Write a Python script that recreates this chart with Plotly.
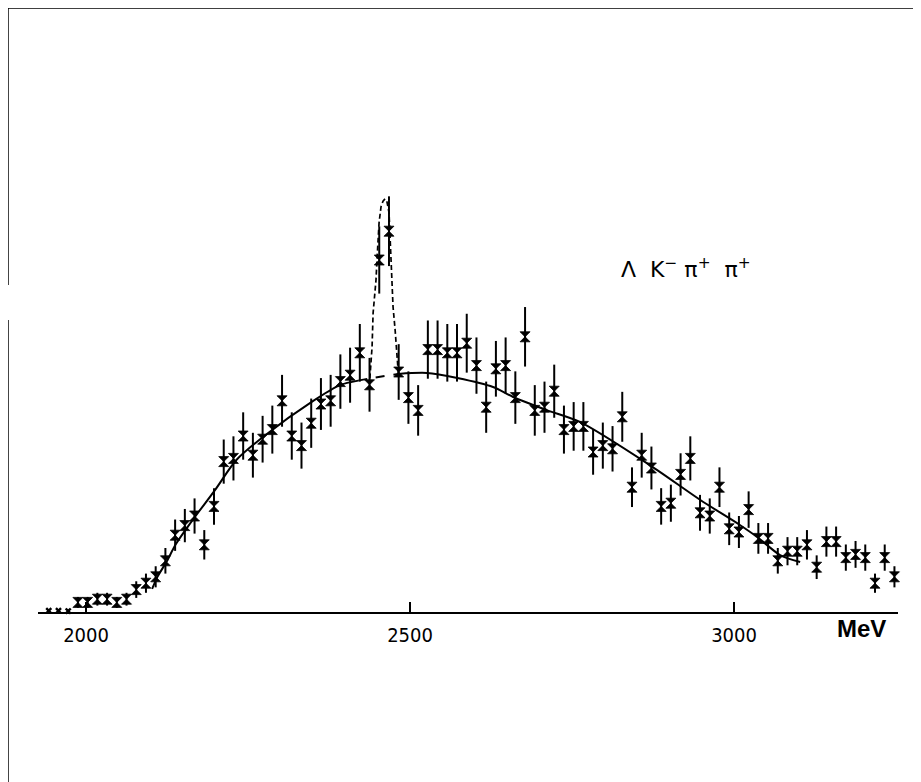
import plotly.graph_objects as go

# ---- data ----
mass = [1987.5, 2002.5, 2017.5, 2032.5, 2047.5, 2062.5, 2077.5, 2092.5, 2107.5, 2122.5,
        2137.5, 2152.5, 2167.5, 2182.5, 2197.5, 2212.5, 2227.5, 2242.5, 2257.5, 2272.5,
        2287.5, 2302.5, 2317.5, 2332.5, 2347.5, 2362.5, 2377.5, 2392.5, 2407.5, 2422.5,
        2437.5, 2452.5, 2467.5, 2482.5, 2497.5, 2512.5, 2527.5, 2542.5, 2557.5, 2572.5,
        2587.5, 2602.5, 2617.5, 2632.5, 2647.5, 2662.5, 2677.5, 2692.5, 2707.5, 2722.5,
        2737.5, 2752.5, 2767.5, 2782.5, 2797.5, 2812.5, 2827.5, 2842.5, 2857.5, 2872.5,
        2887.5, 2902.5, 2917.5, 2932.5, 2947.5, 2962.5, 2977.5, 2992.5, 3007.5, 3022.5,
        3037.5, 3052.5, 3067.5, 3082.5, 3097.5, 3112.5, 3127.5, 3142.5, 3157.5, 3172.5,
        3187.5, 3202.5, 3217.5, 3232.5, 3247.5]
counts = [3, 3, 4, 4, 3, 4, 7, 9, 11, 16,
          24, 27, 30, 21, 33, 47, 48, 55, 49, 54,
          57, 66, 55, 52, 59, 65, 66, 72, 74, 81,
          71, 110, 119, 75, 67, 63, 82, 82, 81, 81,
          84, 77, 64, 76, 77, 67, 86, 63, 64, 69,
          57, 58, 58, 50, 52, 51, 61, 39, 49, 45,
          33, 34, 43, 48, 31, 30, 39, 26, 25, 32,
          23, 23, 16, 19, 19, 21, 14, 22, 22, 17,
          18, 17, 9, 17, 11]
errors = [1.7, 1.7, 2.0, 2.0, 1.7, 2.0, 2.6, 3.0, 3.3, 4.0,
          4.9, 5.2, 5.5, 4.6, 5.7, 6.9, 6.9, 7.4, 7.0, 7.3,
          7.5, 8.1, 7.4, 7.2, 7.7, 8.1, 8.1, 8.5, 8.6, 9.0,
          8.4, 10.5, 10.9, 8.7, 8.2, 7.9, 9.1, 9.1, 9.0, 9.0,
          9.2, 8.8, 8.0, 8.7, 8.8, 8.2, 9.3, 7.9, 8.0, 8.3,
          7.5, 7.6, 7.6, 7.1, 7.2, 7.1, 7.8, 6.2, 7.0, 6.7,
          5.7, 5.8, 6.6, 6.9, 5.6, 5.5, 6.2, 5.1, 5.0, 5.7,
          4.8, 4.8, 4.0, 4.4, 4.4, 4.6, 3.7, 4.7, 4.7, 4.1,
          4.2, 4.1, 3.0, 4.1, 3.3]

empty_mass = [1942.5, 1957.5, 1972.5]
empty_counts = [0.4, 0.4, 0.3]

bg_mass = [2102, 2110, 2124, 2139, 2168, 2199, 2232, 2275, 2350, 2392, 2420, 2438, 2482,
           2526, 2573, 2628, 2659, 2711, 2762, 2870, 2948, 3009, 3036, 3071, 3102]
bg_val = [7.2, 10.9, 15.6, 21.3, 29.7, 38.1, 47.5, 55.0, 65.9, 70.9, 72.3, 73.0, 74.4,
          74.7, 73.1, 70.3, 67.2, 63.1, 59.4, 45.9, 35.0, 27.2, 23.4, 17.8, 15.6]

pk_mass = [2438, 2441.4, 2443, 2447.5, 2449, 2450.6, 2452.2, 2455.2, 2458.3, 2461.4,
           2464.5, 2467.6, 2469.1, 2470.7, 2472.2, 2473.8, 2477, 2480, 2482]
pk_val = [73.0, 82.8, 93.4, 103.8, 110, 116.3, 121.6, 126.6, 128.4, 129.1,
          128.1, 124.7, 117.2, 110.9, 104.7, 95.3, 88.1, 80.9, 74.4]

tick_vals = [2000, 2500, 3000]
tick_text = ["2000", "2500", "3000"]
label_text = "Λ  K<sup>−</sup> π<sup>+</sup>  π<sup>+</sup>"
unit_text = "<b>MeV</b>"

# ---- figure ----
fig = go.Figure()

# background curve: solid outside the peak region, dashed underneath it
lo_m = [m for m in bg_mass if m <= 2420]
lo_v = [v for m, v in zip(bg_mass, bg_val) if m <= 2420]
mid_m = [m for m in bg_mass if 2420 <= m <= 2482]
mid_v = [v for m, v in zip(bg_mass, bg_val) if 2420 <= m <= 2482]
hi_m = [m for m in bg_mass if m >= 2482]
hi_v = [v for m, v in zip(bg_mass, bg_val) if m >= 2482]

for xs, ys, dash in [(lo_m, lo_v, "solid"), (mid_m, mid_v, "dash"), (hi_m, hi_v, "solid")]:
    fig.add_trace(go.Scatter(x=xs, y=ys, mode="lines",
                             line=dict(color="black", width=2, dash=dash, shape="spline", smoothing=0.8),
                             showlegend=False, hoverinfo="skip"))

fig.add_trace(go.Scatter(x=pk_mass, y=pk_val, mode="lines",
                         line=dict(color="black", width=1.7, dash="5px,3px"),
                         showlegend=False, hoverinfo="skip"))

fig.add_trace(go.Scatter(x=mass, y=counts, mode="markers",
                         marker=dict(symbol="hourglass", size=10, color="black",
                                     line=dict(color="black", width=0.8)),
                         error_y=dict(type="data", array=errors, visible=True,
                                      color="black", thickness=2, width=0),
                         showlegend=False, cliponaxis=False))

fig.add_trace(go.Scatter(x=empty_mass, y=empty_counts, mode="markers",
                         marker=dict(symbol="x", size=6, color="black"),
                         showlegend=False, cliponaxis=False))

fig.add_annotation(x=2822, y=107.5, xref="x", yref="y", text=label_text,
                   showarrow=False, xanchor="left", yanchor="middle",
                   font=dict(family="DejaVu Sans", size=22, color="black"))
fig.add_annotation(x=0.958, y=-0.032, xref="paper", yref="paper", text=unit_text,
                   showarrow=False, xanchor="center", yanchor="middle",
                   font=dict(family="Liberation Sans", size=24, color="black"))

# frame lines around the page
fig.add_shape(type="line", xref="paper", yref="paper", x0=-0.0349, x1=-0.0349, y0=1.1797, y1=0.6387,
              line=dict(color="black", width=1.5))
fig.add_shape(type="line", xref="paper", yref="paper", x0=-0.0349, x1=-0.0349, y0=0.5703, y1=-0.35,
              line=dict(color="black", width=1.5))
fig.add_shape(type="line", xref="paper", yref="paper", x0=-0.0349, x1=1.04, y0=1.1797, y1=1.1797,
              line=dict(color="black", width=1.5))

fig.update_layout(
    width=921, height=782,
    margin=dict(l=30, r=31, t=92, b=178),
    paper_bgcolor="white", plot_bgcolor="white",
    showlegend=False,
    xaxis=dict(range=[1925.9, 3253], showgrid=False, zeroline=False,
               showline=True, linecolor="black", linewidth=1.5,
               tickvals=tick_vals, ticktext=tick_text,
               ticks="inside", ticklen=10, tickwidth=1.5, tickcolor="black",
               ticklabelstandoff=4,
               tickfont=dict(family="Liberation Sans Narrow, DejaVu Sans Condensed, Liberation Sans",
                             size=20, color="black")),
    yaxis=dict(range=[0, 160], visible=False, showgrid=False, zeroline=False),
)

fig.write_html("out.html")
